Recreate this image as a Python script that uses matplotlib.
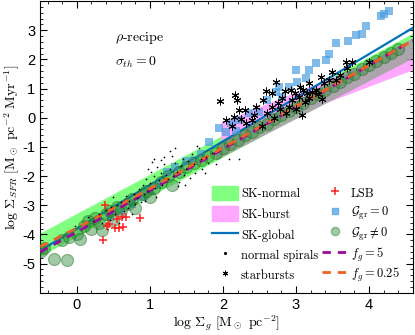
import numpy as np
import matplotlib
matplotlib.use('Agg')
from matplotlib import pyplot as plt
from matplotlib.patches import Patch
from matplotlib.lines import Line2D
from matplotlib.legend import Legend
from matplotlib.ticker import MultipleLocator

plt.rcParams['mathtext.fontset'] = 'cm'
plt.rcParams['axes.unicode_minus'] = False

# SK-normal band (edges)
sk_normal_x = [-0.5, 4.6]
sk_normal_hi = [-3.95, 2.9]
sk_normal_lo = [-4.75, 2.2]
# SK-burst band
sk_burst_x = [1.97, 4.6]
sk_burst_hi = [-0.15, 2.5]
sk_burst_lo = [-0.85, 1.65]
# gray envelope
env_x = [1.9, 4.6]
env_hi = [-0.9, 2.75]
env_lo = [-1.45, 2.05]
# SK-global line
sk_global_x = [-0.5, 4.6]
sk_global_y = [-4.55, 3.08]
# f_g lines
fg5_x = [-0.5, 0.0, 1.0, 2.0, 3.0, 4.6]
fg5_y = [-4.6, -3.92, -2.5, -1.07, 0.36, 2.65]
fg025_x = [-0.5, 0.0, 1.0, 2.0, 3.0, 4.6]
fg025_y = [-4.42, -3.78, -2.43, -1.03, 0.38, 2.65]

# G_gr != 0 (green circles)
gg_x = [-0.49, -0.45, -0.31, -0.14, -0.2, -0.1, 0.0, 0.05, 0.1, 0.15, 0.2, 0.25, 0.3, 0.35,
        0.4, 0.45, 0.5, 0.55, 0.6, 0.7, 0.75, 0.8, 0.9, 0.95, 1.0, 1.05, 1.15, 1.25, 1.3,
        1.4, 1.5, 1.6, 1.7, 1.8, 1.9, 2.0, 2.1, 2.2, 2.3, 2.4, 2.5, 2.6, 2.7, 2.8, 2.9,
        3.0, 3.1, 3.2, 3.3, 3.4, 3.5, 3.6, 3.7, 3.8, 3.9, 4.0, 4.1, 4.2, 4.3, 4.4]
gg_y = [-4.58, -4.45, -4.85, -4.88, -4.2, -4.1, -4.0, -4.15, -3.7, -3.55, -3.8, -3.45, -3.6,
        -3.85, -3.3, -3.2, -3.5, -3.05, -3.15, -2.95, -2.8, -3.1, -2.6, -2.5, -2.7, -2.4,
        -2.2, -2.0, -2.3, -1.85, -1.7, -1.55, -1.45, -1.3, -1.2, -1.05, -0.9, -0.75, -0.6,
        -0.48, -0.33, -0.2, -0.05, 0.1, 0.22, 0.38, 0.5, 0.68, 0.8, 0.95, 1.09, 1.22, 1.38,
        1.5, 1.66, 1.8, 1.93, 2.08, 2.22, 2.37]

# G_gr = 0 (blue squares)
g0_x = [0.45, 0.6, 0.75, 0.9, 1.0, 1.1, 1.24, 1.35, 1.49, 1.6, 1.7, 1.81, 1.95, 2.04,
        2.11, 2.18, 2.22, 2.36, 2.49, 2.6, 2.73, 2.77, 2.81, 2.9, 3.01, 3.0, 3.14, 3.18,
        3.27, 3.41, 3.45, 3.55, 3.71, 3.82, 3.9, 3.96, 4.16, 4.2, 4.27]
g0_y = [-3.4, -3.2, -2.95, -2.7, -2.5, -2.3, -1.87, -1.7, -1.48, -1.45, -1.25, -0.83,
        -0.35, -0.5, -0.17, -0.47, -0.07, 0.17, 0.2, 0.61, 0.88, 1.05, 0.71, 1.05, 1.22,
        1.63, 1.36, 1.63, 1.86, 1.97, 2.2, 2.55, 2.64, 2.85, 2.88, 3.15, 3.49, 3.56, 3.66]

# normal spirals
ns_x = [-0.02, 0.16, 0.22, 0.3, 0.35, 0.4, 0.45, 0.5, 0.47, 0.52, 0.55, 0.6, 0.62, 0.67,
        0.7, 0.72, 0.75, 0.78, 0.8, 0.83, 0.85, 0.88, 0.9, 0.92, 0.95, 0.97, 1.0, 1.02,
        1.03, 1.05, 1.07, 1.1, 1.12, 1.15, 1.17, 1.19, 1.2, 1.22, 1.25, 1.27, 1.3, 1.32,
        1.35, 1.37, 1.4, 1.42, 1.45, 1.47, 1.5, 1.52, 1.55, 1.57, 1.6, 1.62, 1.64, 1.67,
        1.7, 1.72, 1.77, 1.8, 1.85, 2.08, 2.22, 1.15, 1.28, 0.93, 0.65, 1.38, 1.48, 1.08,
        0.58, 0.42, 1.9, 1.75, 0.98, 1.35, 1.05]
ns_y = [-3.7, -3.39, -3.55, -3.3, -3.6, -3.15, -3.5, -2.7, -3.05, -3.3, -3.0, -2.9, -3.45,
        -2.68, -3.1, -2.85, -3.3, -2.6, -2.95, -2.75, -2.45, -2.9, -2.3, -2.6, -2.1, -2.5,
        -2.25, -1.85, -1.53, -2.0, -2.4, -1.7, -2.15, -1.9, -2.3, -1.36, -1.6, -1.95, -2.1,
        -1.75, -1.32, -2.0, -1.55, -1.85, -2.2, -1.65, -1.4, -1.95, -1.75, -1.5, -2.05,
        -1.25, -1.6, -1.9, -0.98, -1.05, -1.4, -1.75, -1.36, -1.55, -1.2, -1.42, -1.42,
        -1.45, -1.15, -2.85, -3.2, -2.35, -2.3, -2.7, -3.6, -3.8, -1.6, -1.9, -1.75, -1.05,
        -1.4]

# starbursts
sb_x = [1.96, 2.16, 2.19, 2.22, 2.3, 2.15, 2.04, 2.45, 2.72, 2.59, 2.67, 2.81, 2.86, 3.08,
        3.22, 3.34, 3.49, 3.68, 3.77, 4.0, 3.7, 3.18, 3.27, 2.95, 3.04, 2.9, 2.32, 2.4,
        2.53, 2.67, 3.45, 3.38, 3.18, 2.98, 3.1, 3.12, 2.75, 2.6, 2.55, 3.3, 3.0, 2.85,
        2.12, 2.25, 3.55, 3.6, 2.43, 2.78, 3.05, 3.15, 2.93, 3.35, 2.7]
sb_y = [0.58, 0.78, 0.61, 0.27, 0.27, 0.03, -0.07, 0.37, 1.22, 0.92, 0.85, 0.68, 0.17, 0.1,
        0.88, 1.39, 1.56, 1.9, 1.9, 1.9, 1.69, 0.68, 0.95, 0.61, 0.71, 0.37, -0.17, -0.07,
        -0.3, 0.37, 1.29, 1.19, 1.19, 0.85, 0.95, 0.55, 0.5, 0.15, 0.6, 0.8, 0.3, 0.9,
        -0.3, -0.05, 1.3, 1.45, 0.1, 0.3, 1.05, 0.85, 0.95, 0.65, 0.0]

# LSB
lsb_x = [0.38, 0.41, 0.52, 0.58, 0.63, 0.55, 0.62, 0.67, 0.87, 0.36, 0.44]
lsb_y = [-3.0, -3.7, -3.77, -3.77, -3.75, -3.47, -3.41, -3.39, -3.42, -4.2, -3.65]

fig = plt.figure(figsize=(4.15, 3.35), dpi=100)
ax = fig.add_axes([0.097, 0.126, 0.898, 0.871])

c_green = '#80ff80'
c_pink = '#ffa8ff'
c_blue = '#0072bd'
c_sq = '#4a9ee0'

ax.fill_between(sk_normal_x, sk_normal_lo, sk_normal_hi, color=c_green, lw=0, zorder=1)
ax.fill_between(sk_burst_x, sk_burst_lo, sk_burst_hi, color=c_pink, lw=0, zorder=1)
ax.fill_between(env_x, env_lo, env_hi, color='#a4a4a4', alpha=0.9, lw=0, zorder=2)
ax.plot(sk_global_x, sk_global_y, color=c_blue, lw=1.6, zorder=3)

ax.scatter(g0_x, g0_y, marker='s', s=36, color=c_sq, alpha=0.7, lw=0, zorder=4)
ax.scatter(gg_x, gg_y, marker='o', s=75, facecolor='#2e8b3a', edgecolor='#1a6a1a',
           alpha=0.45, lw=0.8, zorder=5)
ax.plot(fg5_x, fg5_y, color='#9a0a9a', lw=2, dashes=(3, 2.5), zorder=6)
ax.plot(fg025_x, fg025_y, color='#f06020', lw=2, dashes=(3, 2.5), zorder=6)

ax.scatter(ns_x, ns_y, marker='.', s=6, color='k', lw=0, zorder=7)
ax.scatter(sb_x, sb_y, marker=(6, 2, 0), s=26, color='k', lw=0.7, zorder=7)
ax.scatter(lsb_x, lsb_y, marker='+', s=40, color='#ff2020', lw=1.1, zorder=7)

ax.text(0.52, 2.72, r'$\rho$-recipe', fontsize=10, family='cmr10', va='center')
ax.text(0.52, 1.9, r'$\sigma_{th}=0$', fontsize=10, va='center')

ax.set_xlim(-0.5, 4.6)
ax.set_ylim(-6, 4)
ax.xaxis.set_minor_locator(MultipleLocator(0.2))
ax.yaxis.set_minor_locator(MultipleLocator(0.2))
ax.tick_params(which='both', direction='in', top=True, right=True, labelsize=10.5)
ax.tick_params(which='major', length=5)
ax.tick_params(which='minor', length=2.5)
ax.set_yticks([-5, -4, -3, -2, -1, 0, 1, 2, 3])
ax.set_yticklabels(['-5', '-4', '-3', '-2', '-1', '0', '1', '2', '3'], family='Liberation Sans')
ax.set_xticks([0, 1, 2, 3, 4])
ax.set_xticklabels(['0', '1', '2', '3', '4'], family='Liberation Sans')

ax.set_xlabel(r'$\log\,\Sigma_g\ [\mathrm{M}_\odot\ \mathrm{pc}^{-2}]$', fontsize=10, labelpad=1)
ax.set_ylabel(r'$\log\,\Sigma_{SFR}\ [\mathrm{M}_\odot\ \mathrm{pc}^{-2}\ \mathrm{Myr}^{-1}]$',
              fontsize=10, labelpad=0)

handles = [
    Patch(color=c_green), Patch(color=c_pink), Line2D([], [], color=c_blue, lw=1.6),
    Line2D([], [], ls='', marker='.', ms=2.5, color='k'),
    Line2D([], [], ls='', marker=(6, 2, 0), ms=4, color='k', mew=0.7),
    Line2D([], [], ls='', marker='+', ms=6, color='#ff2020', mew=1.1),
    Line2D([], [], ls='', marker='s', ms=4, color=c_sq, alpha=0.7),
    Line2D([], [], ls='', marker='o', ms=6, color='#2e8b3a', alpha=0.45),
    Line2D([], [], color='#9a0a9a', lw=2, dashes=(3, 2.5)),
    Line2D([], [], color='#f06020', lw=2, dashes=(3, 2.5)),
]
labels = ['SK-normal', 'SK-burst', 'SK-global', 'normal spirals', 'starbursts',
          'LSB', r'$\mathcal{G}_{\rm gr}=0$', r'$\mathcal{G}_{\rm gr}\neq0$',
          r'$f_g=5$', r'$f_g=0.25$']

# one small legend per entry so both columns share the same rows
row_y = [0.342, 0.271, 0.200, 0.130, 0.062]
col_x = [0.461, 0.756]
for i, (h, lab) in enumerate(zip(handles, labels)):
    leg = Legend(ax, [h], [lab], loc='center left',
                 bbox_to_anchor=(col_x[i // 5], row_y[i % 5]),
                 frameon=False, borderpad=0, borderaxespad=0,
                 handlelength=2.1, handleheight=1.4, handletextpad=0.2,
                 prop={'family': 'cmr10', 'size': 9})
    ax.add_artist(leg)

fig.savefig('out.png', dpi=100)
